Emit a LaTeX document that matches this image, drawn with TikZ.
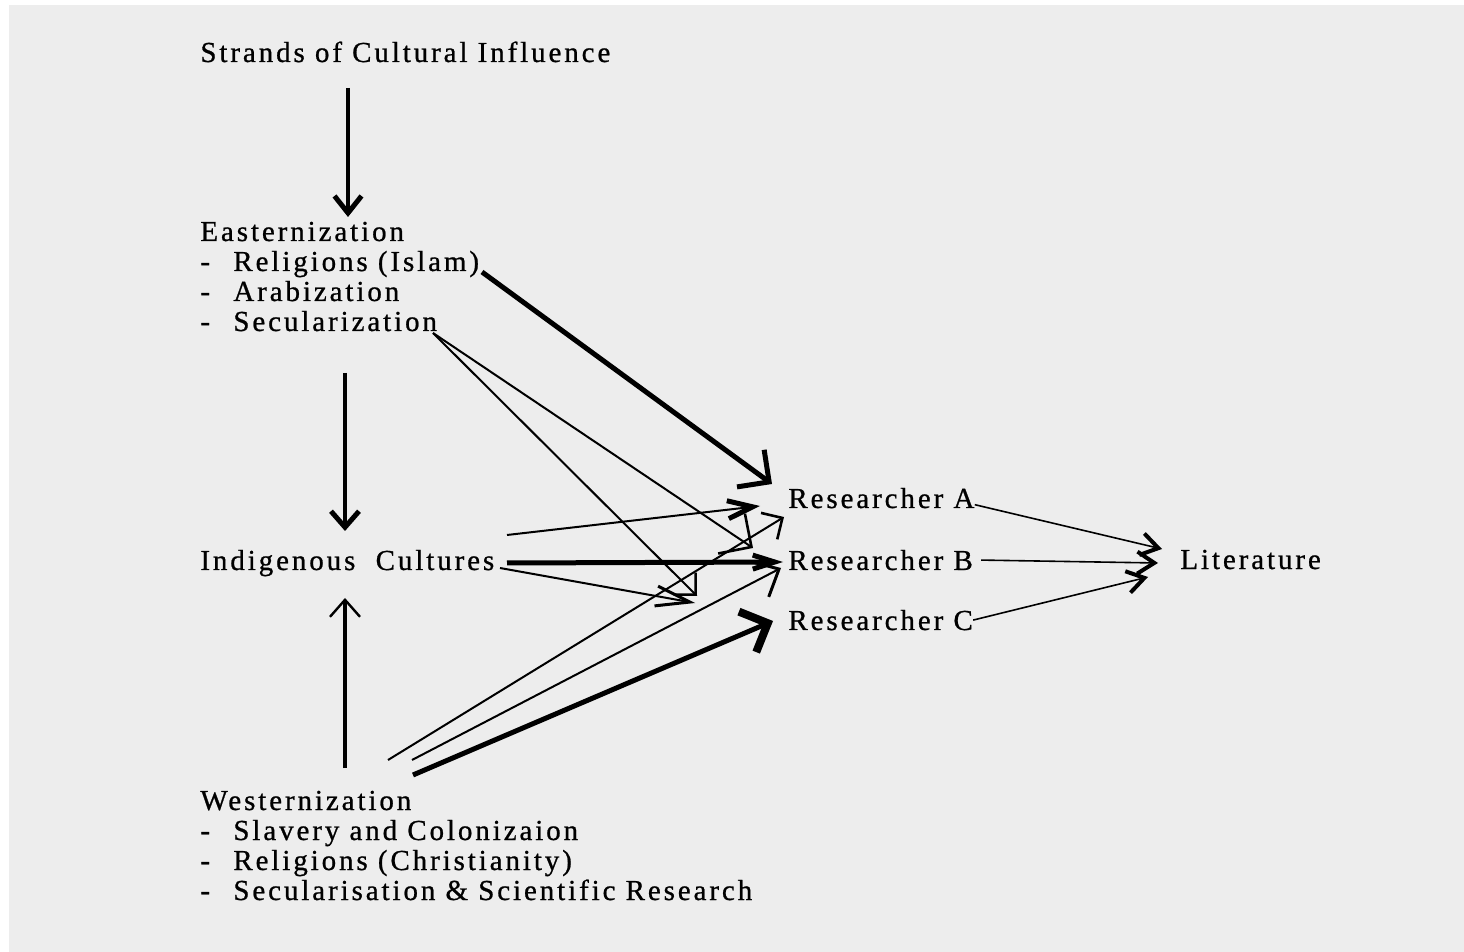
\documentclass[tikz,border=0pt]{standalone}
\usepackage{fontspec}
\setmainfont{Liberation Serif}[LetterSpace=10, FakeBold=0.8]
\usetikzlibrary{arrows.meta}

\definecolor{scan}{HTML}{EDEDED}
\newcommand{\dashmark}{\makebox[16.5pt][l]{-}}

\tikzstyle{strand}     = [inner sep=0pt, anchor=base west
                         , font=\fontsize{14.5}{15}\selectfont]
\tikzstyle{entry}      = [strand, yshift=-15pt]
\tikzstyle{flow}       = [draw, line width=1pt]
\tikzstyle{mainflow}   = [draw, line width=2.5pt]
\tikzstyle{strandflow} = [draw, line width=2pt]
\tikzstyle{litflow}    = [draw, line width=0.8pt]

\begin{document}
\begin{tikzpicture}[x=0.5pt, y=-0.5pt]

\fill [white] (0,0) rectangle (1464,952);
\fill [scan] (9,5) rectangle (1464,952);
\useasboundingbox (0,0) rectangle (1464,952);

%% Title
\node [strand] (Title) at (200,62) {Strands of Cultural Influence};

%% Easternization strand
\node [strand] (Eastern-Head) at (200,241) {Easternization};
\node [entry] (Eastern-Islam) at (Eastern-Head.base west) {\dashmark Religions (Islam)};
\node [entry] (Eastern-Arab) at (Eastern-Islam.base west) {\dashmark Arabization};
\node [entry] (Eastern-Secular) at (Eastern-Arab.base west) {\dashmark Secularization};

%% Indigenous cultures
\node [strand] (Indigenous) at (200,570) {Indigenous\ \ Cultures};

%% Westernization strand
\node [strand] (Western-Head) at (200,810) {Westernization};
\node [entry] (Western-Slavery) at (Western-Head.base west) {\dashmark Slavery and Colonizaion};
\node [entry] (Western-Christ) at (Western-Slavery.base west) {\dashmark Religions (Christianity)};
\node [entry] (Western-Science) at (Western-Christ.base west) {\dashmark Secularisation \& Scientific Research};

%% Researchers and literature
\node [strand] (Res-A) at (788,508) {Researcher A};
\node [strand] (Res-B) at (788,570) {Researcher B};
\node [strand] (Res-C) at (788,630) {Researcher C};
\node [strand] (Literature) at (1180,569) {Literature};

%% Free ends
\coordinate (Title-Out) at (348,88);
\coordinate (Eastern-In) at (348,217);
\coordinate (Eastern-Out) at (345,373);
\coordinate (Indig-Top) at (345,531);
\coordinate (Indig-Bot) at (345,598);
\coordinate (Western-Out) at (345,768);

\coordinate (Islam-Out) at (482,272);
\coordinate (Secular-Out) at (433,333);
\coordinate (Indig-OutA) at (507,535);
\coordinate (Indig-OutB) at (507,563);
\coordinate (Indig-OutC) at (500,568);
\coordinate (Western-OutA) at (388,760);
\coordinate (Western-OutB) at (412,760);
\coordinate (Western-OutC) at (413,775);

\coordinate (ResA-InIslam) at (772,484);
\coordinate (ResA-InIndig) at (760,506);
\coordinate (ResA-InWestern) at (784,517);
\coordinate (ResB-InSecular) at (753,548);
\coordinate (ResB-InIndig) at (783,562);
\coordinate (ResB-InWestern) at (781,568);
\coordinate (ResC-InWestern) at (773,621);
\coordinate (Cross-Secular) at (697,596);
\coordinate (Cross-Indig) at (695,603);

\coordinate (Lit-InA) at (1162,549);
\coordinate (Lit-InB) at (1158,563);
\coordinate (Lit-InC) at (1148,577);

%% Strand arrows
\draw [strandflow, -{Straight Barb[length=8.5pt,width=13.5pt,line width=2.5pt]}] (Title-Out) -- (Eastern-In);
\draw [strandflow, -{Straight Barb[length=8pt,width=14pt,line width=2.5pt]}] (Eastern-Out) -- (Indig-Top);
\draw [strandflow, -{Straight Barb[length=8.5pt,width=15pt,line width=1.2pt]}] (Western-Out) -- (Indig-Bot);

%% Easternization to researchers
\draw [mainflow, -{Straight Barb[length=11.5pt,width=23pt,line width=2.5pt]}] (Islam-Out) -- (ResA-InIslam);
\draw [flow, -{Straight Barb[length=12pt,width=24pt,line width=1.3pt]}] (Secular-Out) -- (ResB-InSecular);
\draw [flow, -{Straight Barb[length=7.8pt,width=15.5pt,line width=1.3pt]}] (Secular-Out) -- (Cross-Secular);

%% Indigenous cultures to researchers
\draw [flow, -{Straight Barb[length=12.5pt,width=9pt,line width=2.5pt]}] (Indig-OutA) -- (ResA-InIndig);
\draw [mainflow, -{Straight Barb[length=11pt,width=7pt,line width=2.5pt]}] (Indig-OutB) -- (ResB-InIndig);
\draw [flow, -{Straight Barb[length=17pt,width=10pt,line width=1.5pt]}] (Indig-OutC) -- (Cross-Indig);

%% Westernization to researchers
\draw [flow, -{Straight Barb[length=7.8pt,width=15.5pt,line width=1.3pt]}] (Western-OutA) -- (ResA-InWestern);
\draw [flow, -{Straight Barb[length=11pt,width=20pt,line width=1.5pt]}] (Western-OutB) -- (ResB-InWestern);
\draw [mainflow, -{Straight Barb[length=11pt,width=22pt,line width=4pt]}] (Western-OutC) -- (ResC-InWestern);

%% Researchers to literature
\draw [litflow, -{Straight Barb[length=8.5pt,width=11pt,line width=2pt]}] ([yshift=2pt]Res-A.south east) -- (Lit-InA);
\draw [litflow, -{Straight Barb[length=8.5pt,width=11pt,line width=2pt]}] ([xshift=4pt]Res-B.east) -- (Lit-InB);
\draw [litflow, -{Straight Barb[length=8.5pt,width=11pt,line width=2pt]}] (Res-C.east) -- (Lit-InC);

\end{tikzpicture}
\end{document}
